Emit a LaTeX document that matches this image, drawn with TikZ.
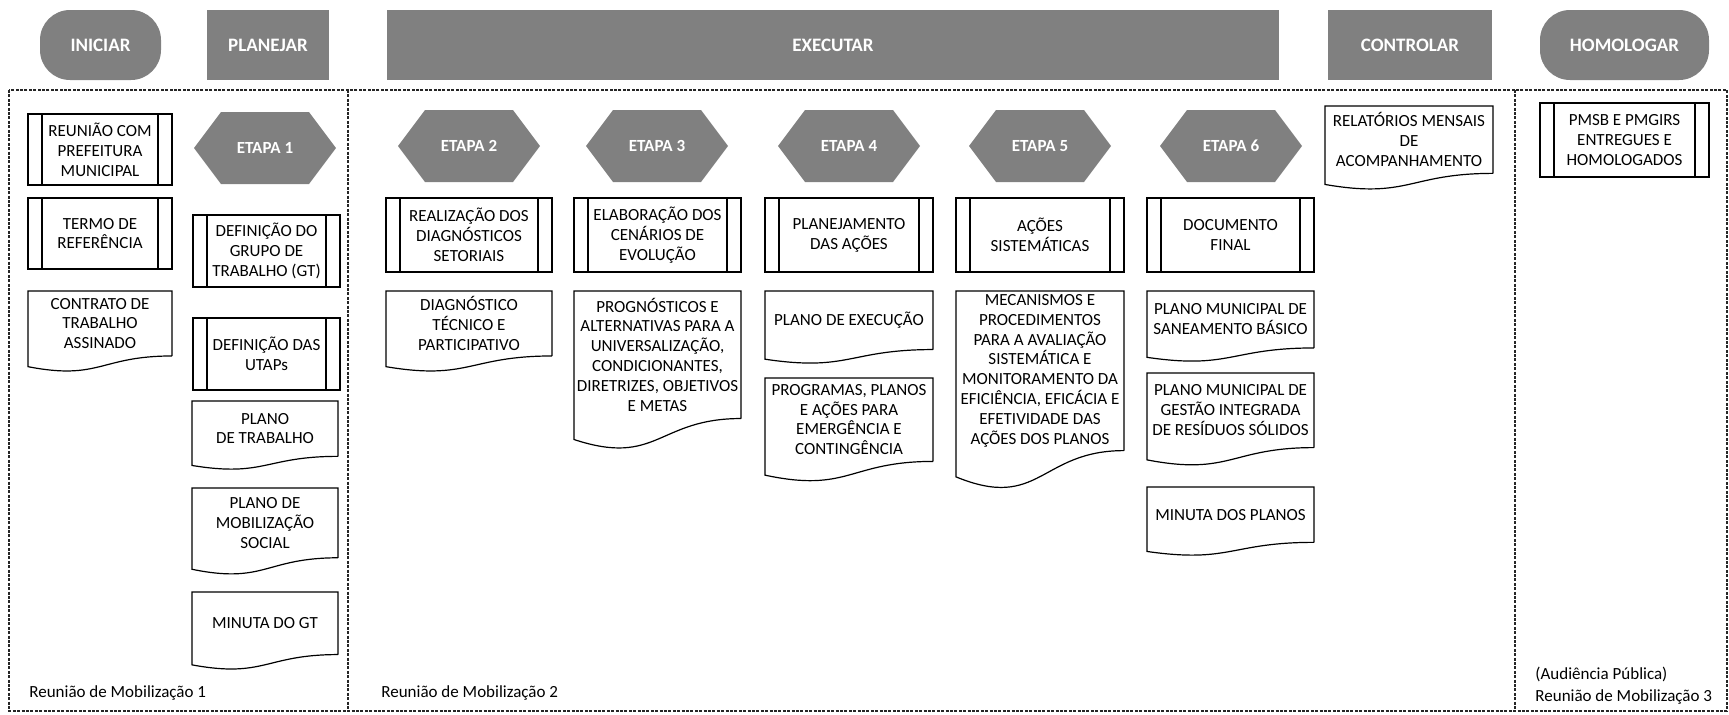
\documentclass[tikz,border=0pt]{standalone}
\usepackage{fontspec}
\setmainfont{Carlito}
\usetikzlibrary{calc}
\definecolor{hdrgray}{gray}{0.5}
\newcommand{\mybf}{\fontsize{8.5}{9.9}\selectfont}
\tikzset{
  shapeline/.style={draw=black, line width=0.6pt},
  procbox/.style={shapeline, rectangle, align=center, inner sep=0pt, font=\mybf,
    path picture={\draw[line width=0.6pt]
      ([xshift=7pt]path picture bounding box.north west) -- ([xshift=7pt]path picture bounding box.south west)
      ([xshift=-7pt]path picture bounding box.north east) -- ([xshift=-7pt]path picture bounding box.south east);}},
  doctext/.style={rectangle, align=center, inner sep=0pt, font=\mybf},
  hexfill/.style={fill=hdrgray},
  hextext/.style={text=white, font=\bfseries\fontsize{8.5}{10}\selectfont, inner sep=0pt},
  hdrrect/.style={fill=hdrgray, text=white, font=\bfseries\fontsize{9.5}{11}\selectfont, inner sep=0pt},
  hdrpill/.style={hdrrect, rounded corners=15pt},
  frameline/.style={draw=black!85, line width=0.7pt, dash pattern=on 1.5pt off 0.7pt},
  lbl/.style={anchor=west, font=\mybf, inner sep=0pt},
}
% name, x1, y1, x2, y2, text
\newcommand{\procnode}[6]{%
  \node[procbox, minimum width={(#4-#2)*0.5pt}, minimum height={(#5-#3)*0.5pt}] (#1) at ({(#2+#4)/2},{(#3+#5)/2}) {#6};}
\newcommand{\docnode}[6]{%
  \node[doctext] (#1) at ({(#2+#4)/2},{#3+0.4*(#5-#3)}) {#6};
  \draw[shapeline] (#4,{#3+0.802*(#5-#3)}) -- (#4,#3) -- (#2,#3) -- (#2,{#3+0.934*(#5-#3)})
    .. controls ({(#2+#4)/2},{#3+1.107*(#5-#3)}) and ({(#2+#4)/2},{#3+0.802*(#5-#3)}) .. (#4,{#3+0.802*(#5-#3)});}
% name, cx, cy, text
\newcommand{\hexnode}[4]{%
  \fill[hexfill] ({#2-71},#3) -- ({#2-44},{#3-36}) -- ({#2+44},{#3-36}) -- ({#2+71},#3) -- ({#2+44},{#3+36}) -- ({#2-44},{#3+36}) -- cycle;
  \node[hextext] (#1) at (#2,#3) {#4};}
\begin{document}
\begin{tikzpicture}[x=0.5pt,y=-0.5pt]
\useasboundingbox (0,0) rectangle (1729,714);
% headers
\node[hdrpill, minimum width=60.5pt, minimum height=35pt] (H1) at (100.5,45) {INICIAR};
\node[hdrrect, minimum width=61pt, minimum height=35pt] (H2) at (268,45) {PLANEJAR};
\node[hdrrect, minimum width=446pt, minimum height=35pt] (H3) at (833,45) {EXECUTAR};
\node[hdrrect, minimum width=82pt, minimum height=35pt] (H4) at (1410,45) {CONTROLAR};
\node[hdrpill, minimum width=84.5pt, minimum height=35pt] (H5) at (1624.5,45) {HOMOLOGAR};
% frames
\draw[frameline] (9,90) rectangle (1727,711);
\draw[frameline] (348,90) -- (348,711);
\draw[frameline, line width=1pt] (1515,90) -- (1515,711);
% box 1
\procnode{p1}{28}{114}{172}{185}{REUNIÃO COM\\PREFEITURA\\MUNICIPAL}
\procnode{p2}{28}{198}{172}{269}{TERMO DE\\REFERÊNCIA}
\docnode{d1}{28}{291}{172}{372}{CONTRATO DE\\TRABALHO\\ASSINADO}
\hexnode{e1}{265}{148}{ETAPA 1}
\procnode{p3}{193}{215}{340}{287}{DEFINIÇÃO DO\\GRUPO DE\\TRABALHO (GT)}
\procnode{p4}{193}{318}{340}{390}{DEFINIÇÃO DAS\\UTAPs}
\docnode{d2}{192}{401}{338}{470}{PLANO\\DE TRABALHO}
\docnode{d3}{192}{488}{338}{575}{PLANO DE\\MOBILIZAÇÃO\\SOCIAL}
\docnode{d4}{192}{592}{338}{670}{MINUTA DO GT}
\node[lbl] (m1) at (29,693) {Reunião de Mobilização 1};
% box 2
\hexnode{e2}{469}{146}{ETAPA 2}
\hexnode{e3}{657}{146}{ETAPA 3}
\hexnode{e4}{849}{146}{ETAPA 4}
\hexnode{e5}{1040}{146}{ETAPA 5}
\hexnode{e6}{1231}{146}{ETAPA 6}
\procnode{p5}{386}{198}{552}{272}{REALIZAÇÃO DOS\\DIAGNÓSTICOS\\SETORIAIS}
\procnode{p6}{574}{198}{741}{272}{ELABORAÇÃO DOS\\CENÁRIOS DE\\EVOLUÇÃO}
\procnode{p7}{765}{198}{933}{272}{PLANEJAMENTO\\DAS AÇÕES}
\procnode{p8}{956}{198}{1124}{272}{AÇÕES\\SISTEMÁTICAS}
\procnode{p9}{1147}{198}{1314}{272}{DOCUMENTO\\FINAL}
\docnode{d5}{386}{291}{552}{372}{DIAGNÓSTICO\\TÉCNICO E\\PARTICIPATIVO}
\docnode{d6}{574}{291}{741}{450}{PROGNÓSTICOS E\\ALTERNATIVAS PARA A\\UNIVERSALIZAÇÃO,\\CONDICIONANTES,\\DIRETRIZES, OBJETIVOS\\E METAS}
\docnode{d7}{765}{291}{933}{364}{PLANO DE EXECUÇÃO}
\docnode{d8}{765}{378}{933}{482}{PROGRAMAS, PLANOS\\E AÇÕES PARA\\EMERGÊNCIA E\\CONTINGÊNCIA}
\docnode{d9}{956}{291}{1124}{490}{MECANISMOS E\\PROCEDIMENTOS\\PARA A AVALIAÇÃO\\SISTEMÁTICA E\\MONITORAMENTO DA\\EFICIÊNCIA, EFICÁCIA E\\EFETIVIDADE DAS\\AÇÕES DOS PLANOS}
\docnode{d10}{1147}{291}{1314}{362}{PLANO MUNICIPAL DE\\SANEAMENTO BÁSICO}
\docnode{d11}{1147}{373}{1314}{466}{PLANO MUNICIPAL DE\\GESTÃO INTEGRADA\\DE RESÍDUOS SÓLIDOS}
\docnode{d12}{1147}{487}{1314}{556}{MINUTA DOS PLANOS}
\docnode{d13}{1325}{106}{1493}{190}{RELATÓRIOS MENSAIS\\DE\\ACOMPANHAMENTO}
\node[lbl] (m2) at (381,693) {Reunião de Mobilização 2};
% box 3
\procnode{p10}{1540}{103}{1709}{177}{PMSB E PMGIRS\\ENTREGUES E\\HOMOLOGADOS}
\node[lbl] (m3a) at (1535,674) {(Audiência Pública)};
\node[lbl] (m3b) at (1535,697) {Reunião de Mobilização 3};
\end{tikzpicture}
\end{document}
